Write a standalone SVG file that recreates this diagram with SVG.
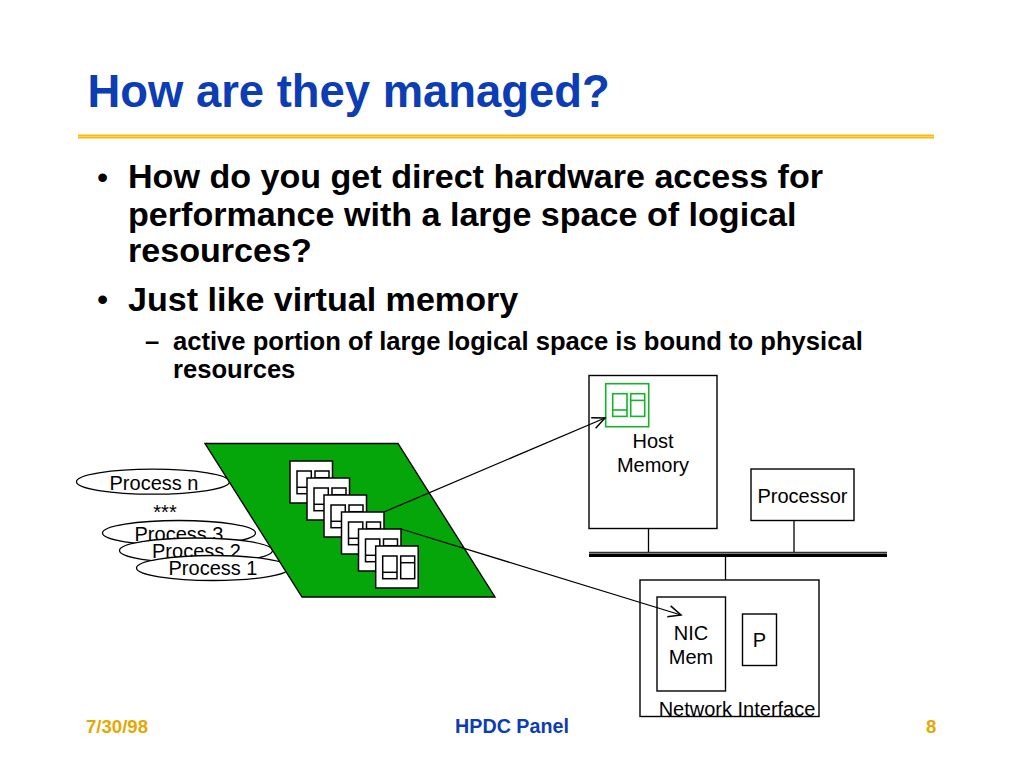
<svg xmlns="http://www.w3.org/2000/svg" xmlns:xlink="http://www.w3.org/1999/xlink" width="1024" height="768" viewBox="0 0 1024 768">
<style>
text{font-family:"Liberation Sans",Arial,sans-serif;fill:#000}
.t{font-size:45.4px;font-weight:bold;fill:#0c3db4}
.l1{font-size:34.1px;font-weight:bold}
.bu{font-size:32px}
.l2{font-size:25.6px;font-weight:bold}
.f{font-size:18.6px;font-weight:bold;fill:#e6a800}
.s{font-size:20px}
.m{text-anchor:middle}
.box{fill:#fff;stroke:#000;stroke-width:1.4}
.ell{fill:#fff;stroke:#000;stroke-width:1.3}
.pg{fill:#fff;stroke:#000;stroke-width:1.5}
.in{fill:none;stroke:#000;stroke-width:1.5}
.gr{fill:none;stroke:#16b22c;stroke-width:1.6}
.c{fill:none;stroke:#000;stroke-width:1.3}
</style>
<defs>
<marker id="arr" markerUnits="userSpaceOnUse" markerWidth="16" markerHeight="16" refX="12" refY="6" orient="auto" viewBox="0 0 14 12"><path d="M1 1L12 6L1 11" fill="none" stroke="#000" stroke-width="1.3"/></marker>
<g id="pageInner"><rect x="7" y="10" width="14.3" height="22.7"/><path d="M7 26.3H21.3"/><rect x="25" y="10" width="14" height="22.7"/><path d="M25 16.7H39"/></g>
<g id="page"><rect class="pg" width="42.5" height="42"/><use xlink:href="#pageInner" href="#pageInner" class="in"/></g>
</defs>
<rect width="1024" height="768" fill="#fff"/>
<g id="header">
<text class="t" x="87.500" y="107">How are they managed?</text>
<rect x="78" y="134.500" width="856" height="4" fill="#fdb913"/>
<rect x="78" y="136" width="856" height="0.800" fill="#ffdf80"/>
</g>
<g id="body">
<text class="bu" x="97" y="188">•</text>
<text class="l1" x="128" y="188">How do you get direct hardware access for</text>
<text class="l1" x="128" y="226">performance with a large space of logical</text>
<text class="l1" x="128" y="262">resources?</text>
<text class="bu" x="97" y="310">•</text>
<text class="l1" x="128" y="310.500">Just like virtual memory</text>
<text class="l2" x="145" y="350">–</text>
<text class="l2" x="173" y="350">active portion of large logical space is bound to physical</text>
<text class="l2" x="173" y="378">resources</text>
</g>
<g id="process-n"><ellipse class="ell" cx="153" cy="481.700" rx="76.500" ry="12.500"/><text class="s m" x="154" y="489.500">Process n</text></g>
<text id="dots" class="s m" x="165" y="519">***</text>
<g id="process-3"><ellipse class="ell" cx="179" cy="533" rx="76.500" ry="12.500"/><text class="s m" x="179" y="540.500">Process 3</text></g>
<g id="process-2"><ellipse class="ell" cx="196" cy="550.500" rx="76.500" ry="12.500"/><text class="s m" x="196.500" y="558">Process 2</text></g>
<g id="process-1"><ellipse class="ell" cx="213" cy="568" rx="76.500" ry="12.500"/><text class="s m" x="213" y="575">Process 1</text></g>
<g id="address-space"><path d="M205 443.500H398L495 597H302Z" fill="#05a60a" stroke="#000" stroke-width="1.400"/></g>
<g id="pages">
<use xlink:href="#page" href="#page" x="290" y="461"/>
<use xlink:href="#page" href="#page" x="307" y="478"/>
<use xlink:href="#page" href="#page" x="324" y="495"/>
<use xlink:href="#page" href="#page" x="341.500" y="512"/>
<use xlink:href="#page" href="#page" x="358.500" y="529"/>
<use xlink:href="#page" href="#page" x="375.700" y="546"/>
</g>
<g id="host-memory"><rect class="box" x="589" y="375.500" width="128" height="153"/>
<text class="s m" x="653" y="447.500">Host</text><text class="s m" x="653" y="471.500">Memory</text>
<rect class="gr" x="605.700" y="383.700" width="43" height="43"/><use xlink:href="#pageInner" href="#pageInner" x="605.700" y="383.700" class="gr"/></g>
<g id="processor"><rect class="box" x="751" y="469" width="103" height="51.500"/><text class="s m" x="802.500" y="502.500">Processor</text></g>
<g id="network-interface"><rect class="box" x="640" y="580" width="179" height="136.500"/><text class="s m" x="737" y="715.500">Network Interface</text></g>
<g id="nic-mem"><rect class="box" x="657" y="597" width="68.500" height="94"/><text class="s m" x="691" y="639.500">NIC</text><text class="s m" x="691" y="663.500">Mem</text></g>
<g id="p"><rect class="box" x="742.500" y="614" width="34" height="51.500"/><text class="s m" x="759.500" y="647">P</text></g>
<g id="connectors">
<path class="c" d="M648.500 528.500V553M794 520.500V553M725.500 557V580"/>
<path d="M589 552.300H887" stroke="#333" stroke-width="1.300" fill="none"/>
<path d="M589 555.300H887" stroke="#000" stroke-width="3.400" fill="none"/>
<path class="c" d="M384 512L605 418" marker-end="url(#arr)"/>
<path class="c" d="M401 529L681 615" marker-end="url(#arr)"/>
</g>
<g id="footer">
<text class="f" x="86" y="733">7/30/98</text>
<text class="f m" x="512" y="733" style="fill:#0c3db4;font-size:19.700px">HPDC Panel</text>
<text class="f" x="926" y="733">8</text>
</g>
</svg>
